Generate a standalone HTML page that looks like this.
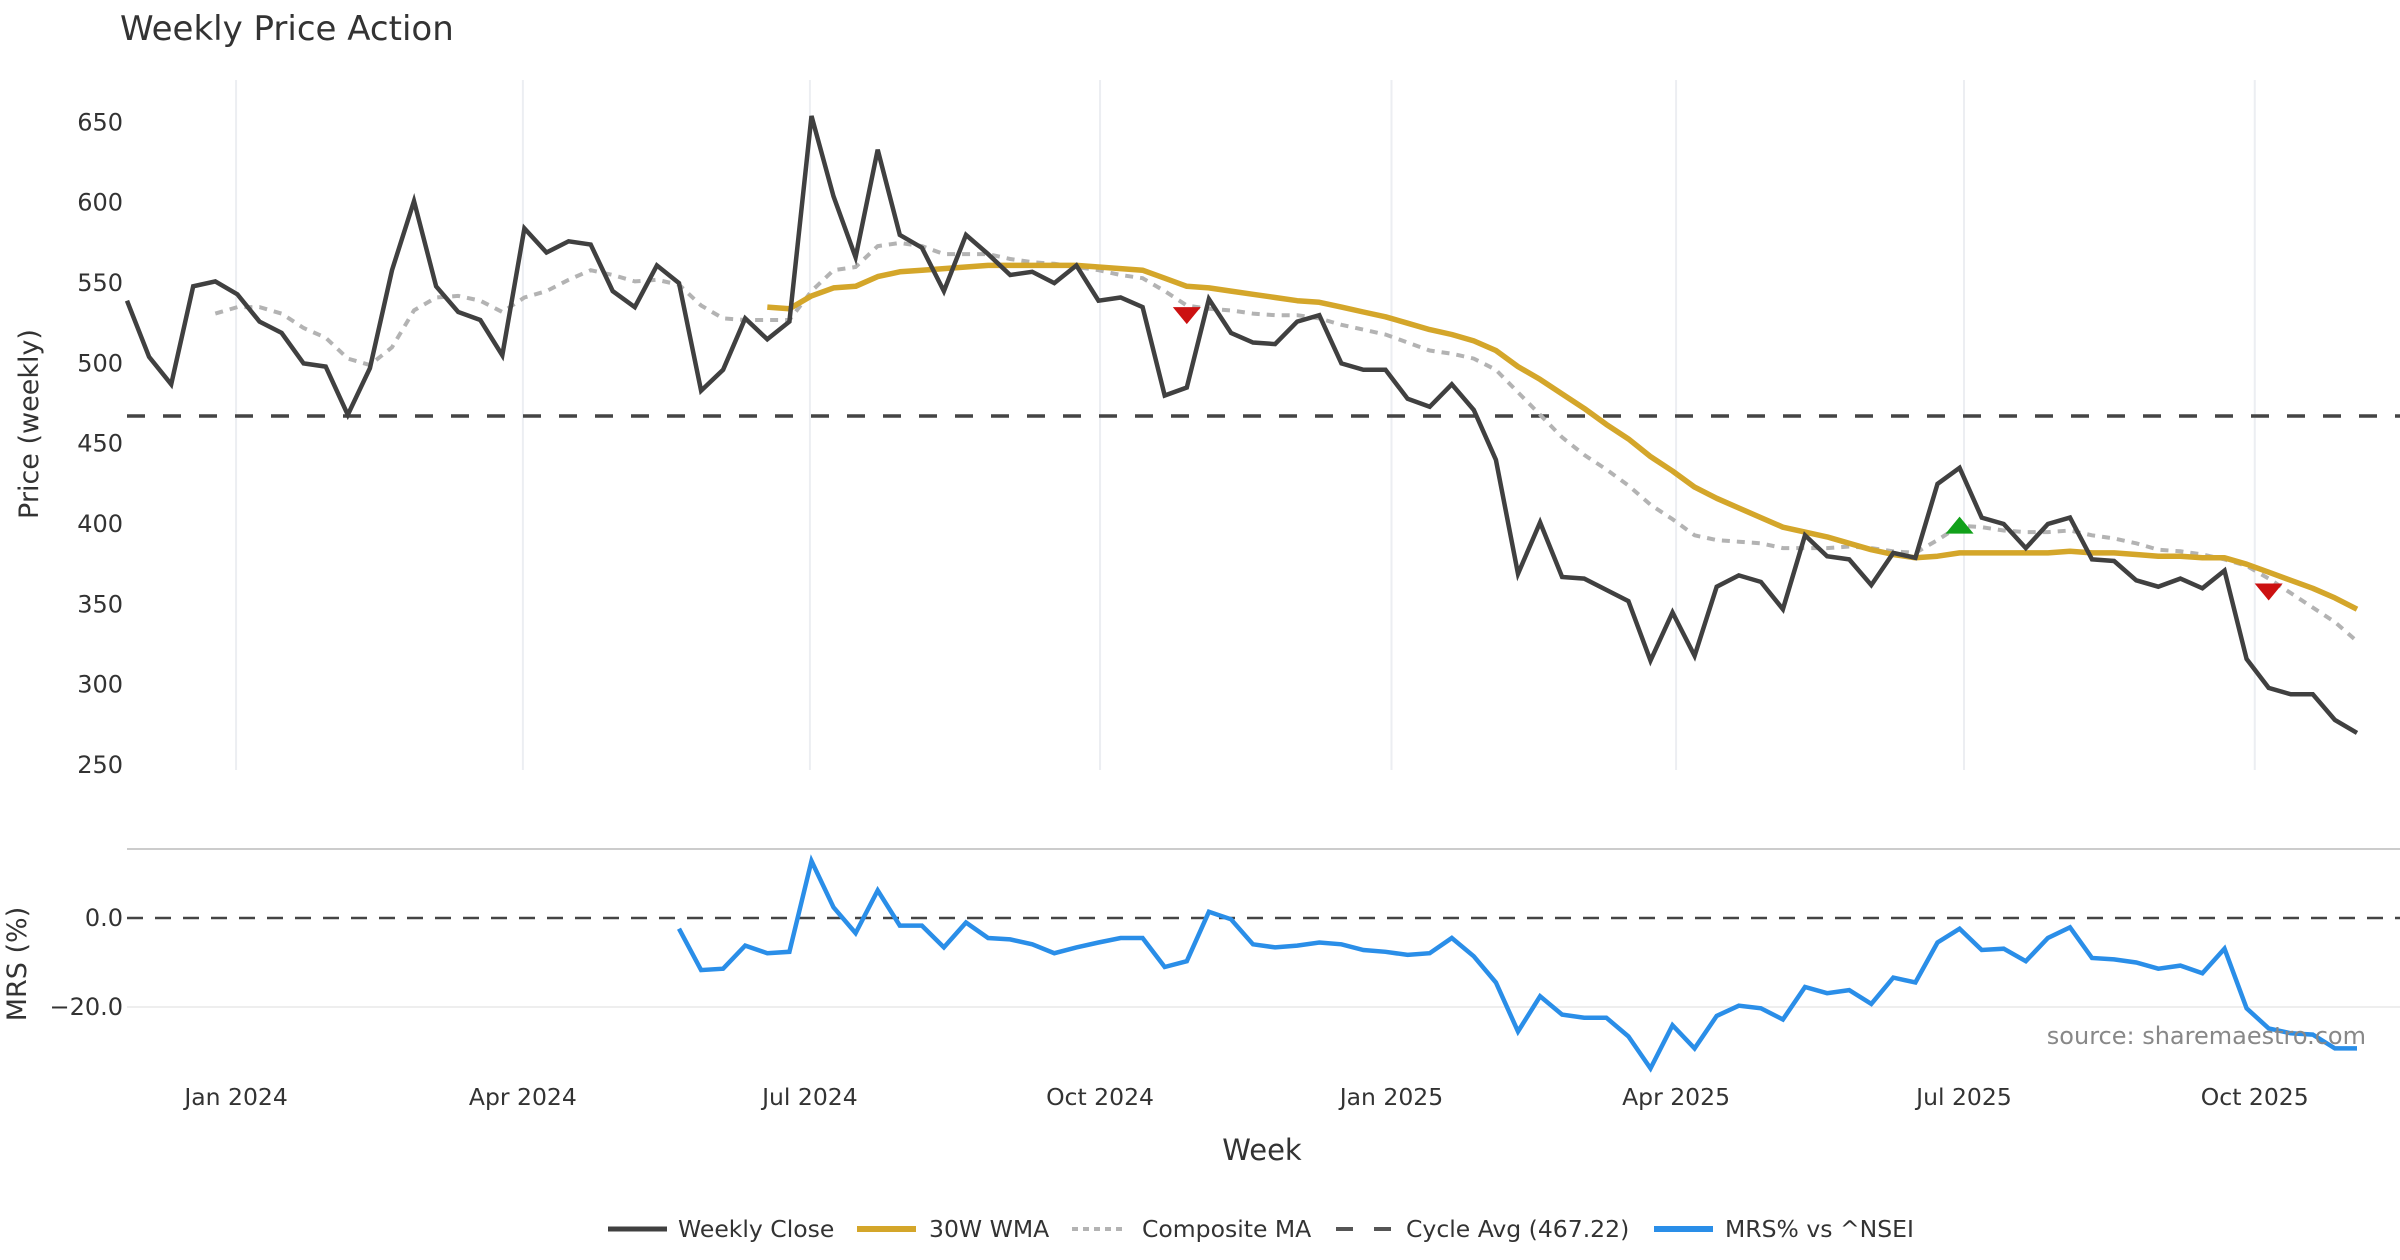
<!DOCTYPE html>
<html><head><meta charset="utf-8"><style>
html,body{margin:0;padding:0;background:#fff;}
svg{display:block;font-family:"DejaVu Sans","Liberation Sans",sans-serif;}
</style></head><body>
<svg id="chart" width="2400" height="1260" viewBox="0 0 2400 1260">
<text x="120" y="40" font-size="34" fill="#333">Weekly Price Action</text>
<g id="grid"></g><g id="lines"></g><g id="axes"></g>
</svg>
<script>
const closes=[539,504,487,548,551,543,526,519,500,498,468,497,558,601,548,532,527,505,584,569,576,574,545,535,561,550,483,496,528,515,526,654,604,566,633,580,572,545,580,568,555,557,550,561,539,541,535,480,485,540,519,513,512,526,530,500,496,496,478,473,487,471,440,369,401,367,366,359,352,315,345,318,361,368,364,347,393,380,378,362,382,379,425,435,404,400,385,400,404,378,377,365,361,366,360,371,316,298,294,294,278,270];
const wmaStart=29;
const wma=[535,534,542,547,548,554,557,558,559,560,561,561,561,561,561,560,559,558,553,548,547,545,543,541,539,538,535,532,529,525,521,518,514,508,498,490,481,472,462,453,442,433,423,416,410,404,398,395,392,388,384,381,379,380,382,382,382,382,382,383,382,382,381,380,380,379,379,375,370,365,360,354,347];
const compStart=4;
const comp=[531,535,535,531,522,516,503,499,510,533,541,542,539,532,541,545,552,558,555,551,552,549,536,528,527,527,527,545,558,560,573,575,573,568,568,568,565,563,562,560,558,555,553,545,536,534,533,531,530,530,528,524,521,518,513,508,506,503,496,482,468,454,443,434,424,412,403,393,390,389,388,385,385,385,386,385,383,382,390,399,398,396,395,395,396,393,391,388,384,383,381,378,374,366,357,348,339,327];
const mrsStart=25;
const mrs=[-2.4,-11.7,-11.4,-6.2,-7.9,-7.6,12.8,2.4,-3.4,6.2,-1.7,-1.7,-6.6,-1.0,-4.5,-4.8,-5.9,-7.9,-6.6,-5.5,-4.5,-4.5,-11,-9.7,1.4,-0.3,-5.9,-6.6,-6.2,-5.5,-5.9,-7.2,-7.6,-8.3,-7.9,-4.5,-8.6,-14.5,-25.5,-17.6,-21.7,-22.4,-22.4,-26.6,-33.8,-24.1,-29.3,-22,-19.7,-20.3,-22.8,-15.5,-16.9,-16.2,-19.3,-13.4,-14.5,-5.5,-2.4,-7.2,-6.9,-9.7,-4.5,-2.1,-9,-9.3,-10,-11.4,-10.7,-12.4,-6.9,-20.3,-24.8,-25.9,-26.2,-29.3,-29.3];
const cycleAvg=467.22;
const priceTicks=[250,300,350,400,450,500,550,600,650];
const mrsTicks=[0,-20];
const dateLabels=["Jan 2024","Apr 2024","Jul 2024","Oct 2024","Jan 2025","Apr 2025","Jul 2025","Oct 2025"];
const datePos=[4.94,17.93,30.93,44.07,57.27,70.16,83.2,96.37];
const sigIdx=[48,83,97];
const sigVal=[530,399,358];
const sigType=["sell","buy","sell"];

const NS="http://www.w3.org/2000/svg";
const X0=127,X1=2357,N=closes.length;
const xs=i=>X0+(X1-X0)*i/(N-1);
const yp=v=>122.4+(650-v)*(765-122.4)/400;
const ym=v=>918+(0-v)*(89/20);
function mk(tag,attrs,parent,txt){const e=document.createElementNS(NS,tag);for(const k in attrs)e.setAttribute(k,attrs[k]);if(txt!==undefined)e.textContent=txt;document.getElementById(parent).appendChild(e);return e;}
datePos.forEach((p,i)=>{
 const g=mk('line',{x1:xs(p),x2:xs(p),y1:80,y2:770,stroke:'#eceef2','stroke-width':2},'grid');
 
 
 const t=mk('text',{x:xs(p),y:1105,'font-size':23.5,fill:'#333','text-anchor':'middle'},'axes',dateLabels[i]);
 
 
});
priceTicks.forEach(v=>{
 const t=mk('text',{x:123,y:yp(v)+8,'font-size':24,fill:'#333','text-anchor':'end'},'axes',String(v));
 
 
});
const g20=mk('line',{x1:127,x2:2400,y1:ym(-20),y2:ym(-20),stroke:'#eeeeee','stroke-width':2},'grid');


mrsTicks.forEach(v=>{
 const t=mk('text',{x:123,y:ym(v)+8,'font-size':24,fill:'#333','text-anchor':'end'},'axes',(v<0?'\u2212':'')+Math.abs(v).toFixed(1));
 
 
});
const sep=mk('line',{x1:127,x2:2400,y1:849,y2:849,stroke:'#cccccc','stroke-width':2},'grid');


const ca=mk('line',{x1:127,x2:2400,y1:yp(cycleAvg),y2:yp(cycleAvg),stroke:'#444','stroke-width':3.5,'stroke-dasharray':'18 18'},'lines');


const z=mk('line',{x1:127,x2:2400,y1:ym(0),y2:ym(0),stroke:'#444','stroke-width':2.5,'stroke-dasharray':'16 12'},'lines');


function pts(arr,start,yf){return arr.map((v,i)=>xs(start+i).toFixed(1)+','+yf(v).toFixed(1)).join(' ');}
const c=mk('polyline',{points:pts(comp,compStart,yp),fill:'none',stroke:'#b3b3b3','stroke-width':4,'stroke-dasharray':'8 7'},'lines');


const w=mk('polyline',{points:pts(wma,wmaStart,yp),fill:'none',stroke:'#d4a62a','stroke-width':5.5,'stroke-linejoin':'round'},'lines');


const cl=mk('polyline',{points:pts(closes,0,yp),fill:'none',stroke:'#404040','stroke-width':4.5,'stroke-linejoin':'miter'},'lines');


const m=mk('polyline',{points:pts(mrs,mrsStart,ym),fill:'none',stroke:'#2a8ee8','stroke-width':4.5},'lines');


sigIdx.forEach((idx,k)=>{
 const x=xs(idx),y=yp(sigVal[k]);
 const p=sigType[k]==='sell'?`${x-14},${y-8} ${x+14},${y-8} ${x},${y+9}`:`${x-14},${y+8} ${x+14},${y+8} ${x},${y-9}`;
 const t=mk('polygon',{points:p,fill:sigType[k]==='sell'?'#cc1111':'#11a11a'},'lines');
 
 
});
</script>
<script>
const s=document.getElementById('chart');
function add(html){s.insertAdjacentHTML('beforeend',html);}
add('<text x="2366" y="1044" font-size="24" fill="#888" text-anchor="end">source: sharemaestro.com</text>');
add('<text x="1262" y="1160" font-size="29" fill="#333" text-anchor="middle">Week</text>');
add('<text transform="translate(38,424) rotate(-90)" font-size="27" fill="#333" text-anchor="middle">Price (weekly)</text>');
add('<text transform="translate(26,964) rotate(-90)" font-size="27" fill="#333" text-anchor="middle">MRS (%)</text>');
add('<g font-size="23.5" fill="#333">'+
'<g><line x1="608" x2="667" y1="1229" y2="1229" stroke="#404040" stroke-width="5"/><text x="678" y="1237">Weekly Close</text></g>'+
'<g><line x1="857" x2="916" y1="1229" y2="1229" stroke="#d4a62a" stroke-width="6"/><text x="929" y="1237">30W WMA</text></g>'+
'<g><line x1="1072" x2="1127" y1="1229" y2="1229" stroke="#b3b3b3" stroke-width="4" stroke-dasharray="6 5"/><text x="1142" y="1237">Composite MA</text></g>'+
'<g><line x1="1336" x2="1391" y1="1229" y2="1229" stroke="#555" stroke-width="4" stroke-dasharray="17 21"/><text x="1406" y="1237">Cycle Avg (467.22)</text></g>'+
'<g><line x1="1654" x2="1713" y1="1229" y2="1229" stroke="#2a8ee8" stroke-width="6"/><text x="1725" y="1237">MRS% vs ^NSEI</text></g></g>');
</script>
</body></html>
